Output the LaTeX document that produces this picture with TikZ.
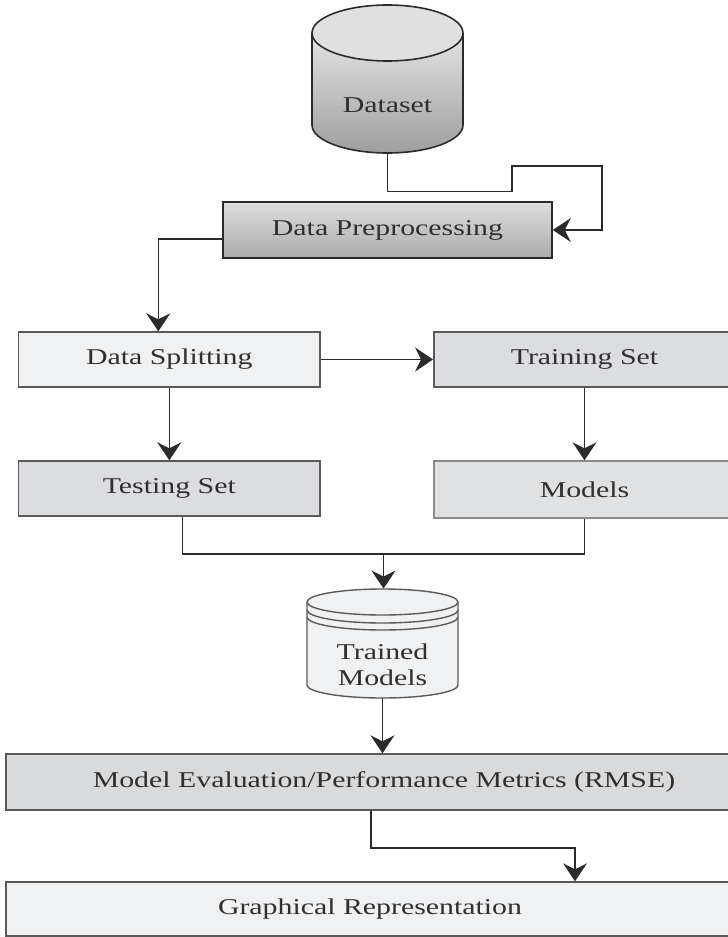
\documentclass[tikz,border=0pt]{standalone}
\usepackage{fontspec}
\setmainfont{Liberation Serif}[FakeStretch=1.32]
\usetikzlibrary{arrows.meta}
\definecolor{darkline}{HTML}{2B2B2B}
\definecolor{boxline}{HTML}{5A5A5A}
\definecolor{paleline}{HTML}{8C8C8C}
\definecolor{textgray}{HTML}{2F2F2F}
\definecolor{lightfill}{HTML}{F0F1F3}
\definecolor{midfill}{HTML}{DCDDE0}
\definecolor{modelfill}{HTML}{E0E1E3}
\definecolor{evalfill}{HTML}{D9DADC}
\definecolor{drumtop}{HTML}{E4E4E4}
\definecolor{drumbot}{HTML}{9E9E9E}
\definecolor{drumlid}{HTML}{E0E0E0}
\definecolor{preptop}{HTML}{DEDEDE}
\definecolor{prepbot}{HTML}{ABABAB}

\begin{document}
\begin{tikzpicture}[x=0.5pt, y=0.5pt, >={Stealth[length=9pt,width=12pt,inset=3pt]},
    every node/.style={font=\fontsize{11.3}{13}\selectfont, text=textgray},
    flowbox/.style={draw=boxline, line width=0.7pt, minimum width=150.7pt, minimum height=27.5pt, inner sep=0pt},
    wire/.style={draw=darkline, line width=0.8pt}]
    \useasboundingbox (0,0) rectangle (728,-937);
    % dataset drum
    \shade[top color=drumtop, bottom color=drumbot] (312,-33) -- (312,-125) arc[start angle=180, end angle=360, x radius=37.75pt, y radius=14pt] -- (463,-33) -- cycle;
    \fill[drumlid] (387.5,-33) ellipse[x radius=37.75pt, y radius=14pt];
    \draw[darkline, line width=0.8pt] (312,-33) -- (312,-125) arc[start angle=180, end angle=360, x radius=37.75pt, y radius=14pt] -- (463,-33);
    \draw[darkline, line width=0.8pt] (387.5,-33) ellipse[x radius=37.75pt, y radius=14pt];
    \node (data) [minimum width=75.5pt, minimum height=74pt, inner sep=0pt, label={[yshift=-13pt]center:Dataset}] at (387.5,-79) {};
    % boxes
    \node (prep) [flowbox, draw=darkline, line width=0.8pt, minimum width=164.5pt, minimum height=28pt, top color=preptop, bottom color=prepbot] at (387.5,-230) {Data Preprocessing};
    \node (split) [flowbox, fill=lightfill] at (169.3,-359.5) {Data Splitting};
    \node (train) [flowbox, fill=midfill] at (584.5,-359.5) {Training Set};
    \node (test) [flowbox, fill=midfill] at (169.3,-488.5) {Testing Set};
    \node (models) [flowbox, draw=paleline, fill=modelfill, minimum height=28.5pt] at (584.5,-489.5) {Models};
    % trained models drum
    \filldraw[fill=lightfill, draw=boxline, line width=0.7pt] (307,-602) -- (307,-685) arc[start angle=180, end angle=360, x radius=37.75pt, y radius=6.5pt] -- (458,-602) arc[start angle=0, end angle=180, x radius=37.75pt, y radius=6.5pt] -- cycle;
    \foreach \lvl in {602,610,617}
        \draw[boxline, line width=0.7pt] (307,-\lvl) arc[start angle=180, end angle=360, x radius=37.75pt, y radius=6.5pt];
    \node (trained) [minimum width=75.5pt, minimum height=54.5pt, inner sep=0pt, label={[yshift=-10.5pt, align=center]center:Trained\\Models}] at (382.5,-643.5) {};
    \node (eval) [flowbox, fill=evalfill, minimum width=378pt, minimum height=28pt] at (384,-782) {Model Evaluation/Performance Metrics (RMSE)};
    \node (graph) [flowbox, fill=lightfill, minimum width=364pt, minimum height=27pt] at (370,-909) {Graphical Representation};
    % connectors
    \draw[wire, ->] (data.south) -- ++(0,-38) -| (512,-166) -- (602,-166) |- (prep.east);
    \draw[wire, ->] ([yshift=-4.5pt]prep.west) -| ([xshift=-5.5pt]split.north);
    \draw[wire, ->] (split.east) -- (train.west);
    \draw[wire, ->] (split.south) -- (test.north);
    \draw[wire, ->] (train.south) -- (models.north);
    \draw[wire] ([xshift=6.5pt]test.south) -- ++(0,-37) -| (models.south);
    \coordinate (join) at (383.5,-553);
    \draw[wire, ->] (join) -- (join |- trained.north);
    \draw[wire, ->] (trained.south) -- (trained.south |- eval.north);
    \draw[wire, ->] ([xshift=-6.5pt]eval.south) -- ++(0,-37) -| ([xshift=102.5pt]graph.north);
\end{tikzpicture}
\end{document}
